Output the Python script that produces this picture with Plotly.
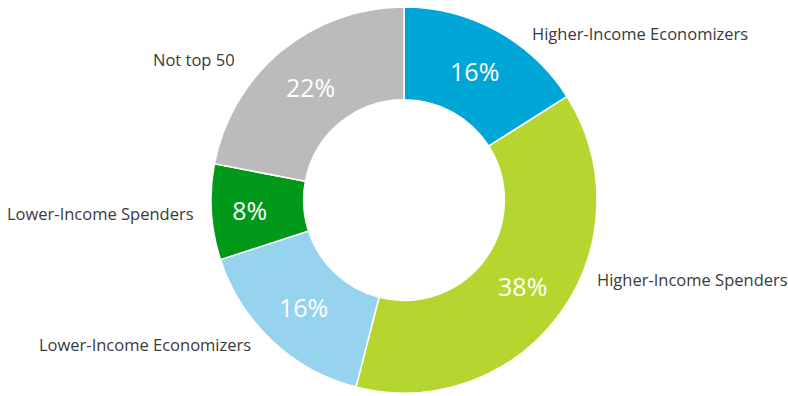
import plotly.graph_objects as go

# Segment shares (percent of total)
segments = ["Higher-Income Economizers", "Higher-Income Spenders",
            "Lower-Income Economizers", "Lower-Income Spenders", "Not top 50"]
shares = [16, 38, 16, 8, 22]
colors = ["#00A6D6", "#B4D62E", "#95D3EE", "#00991A", "#BBBBBB"]

W, H = 788, 396
cx, cy, r_out = 404, 200, 193  # pixel centre / outer radius of the ring

# Outside category labels: (x px, y px, anchor)
label_pos = {
    "Higher-Income Economizers": (530, 33, "left"),
    "Higher-Income Spenders": (595, 279, "left"),
    "Lower-Income Economizers": (253, 344, "right"),
    "Lower-Income Spenders": (196, 213, "right"),
    "Not top 50": (237, 60, "right"),
}

fig = go.Figure(go.Pie(
    labels=segments,
    values=shares,
    sort=False,
    direction="clockwise",
    rotation=0,
    hole=0.52,
    marker=dict(colors=colors, line=dict(color="white", width=1.5)),
    texttemplate="%{value}%",
    textposition="inside",
    insidetextorientation="horizontal",
    textfont=dict(family="Open Sans", size=25, color="white"),
    domain=dict(x=[(cx - r_out) / W, (cx + r_out) / W],
                y=[(H - cy - r_out) / H, (H - cy + r_out) / H]),
    showlegend=False,
    hoverinfo="label+percent",
))

for name in segments:
    x, y, anchor = label_pos[name]
    fig.add_annotation(
        x=x / W, y=1 - y / H, xref="paper", yref="paper",
        text=name, showarrow=False, xanchor=anchor, yanchor="middle",
        font=dict(family="Open Sans", size=16.5, color="#3a3a3a"),
    )

fig.update_layout(
    width=W, height=H,
    margin=dict(l=0, r=0, t=0, b=0),
    paper_bgcolor="white",
    plot_bgcolor="white",
)

fig.write_html("out.html")
